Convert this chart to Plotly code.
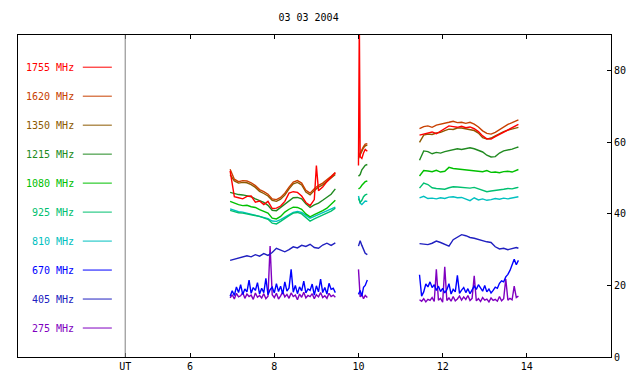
import numpy as np
import plotly.graph_objects as go

# ---------------- data ----------------
labels = ["1755 MHz", "1620 MHz", "1350 MHz", "1215 MHz", "1080 MHz",
          "925 MHz", "810 MHz", "670 MHz", "405 MHz", "275 MHz"]
colors = ["#ff0000", "#c84000", "#8c5a00", "#208a20", "#00c000",
          "#00c070", "#00c0c0", "#0000ff", "#2020c0", "#8000c0"]

# sampling times (UT hours) of the three observing segments
t1 = list(np.round(np.arange(6.95, 9.4501, 0.1), 2))          # 26
t2 = [10.00, 10.04, 10.08, 10.12, 10.16, 10.21]                # 6
t3 = list(np.round(np.arange(11.45, 13.7501, 0.1), 2)) + [13.80]  # 25
# denser sampling for the noisy low-frequency channels
t1n = list(np.round(np.arange(6.95, 9.4501, 0.05), 2))         # 51
t3n = list(np.round(np.arange(11.45, 13.8001, 0.05), 2))       # 48

T = t1 + [None] + t2 + [None] + t3
TN = t1n + [None] + t2 + [None] + t3n

f1755 = [52.0, 44.8, 44.5, 44.2, 44.9, 45.0, 43.3, 43.6, 42.6, 43.5, 41.5, 41.6, 42.2,
         43.5, 45.8, 46.2, 46.0, 45.0, 43.2, 42.3, 44.0, 46.5, 47.5, 49.0, 50.2, 51.5,
         None, 53.5, 56.0, 55.5, 57.0, 58.0, 57.5,
         None, 62.0, 62.3, 62.6, 62.9, 62.4, 63.2, 64.0, 64.6, 64.4, 64.2, 64.5, 64.1,
         64.3, 63.8, 63.0, 61.8, 61.0, 60.9, 61.6, 62.2, 62.8, 63.5, 64.0, 64.6, 65.0]
f1620 = [52.5, 49.7, 49.0, 49.3, 49.2, 48.7, 47.9, 46.8, 46.2, 45.5, 44.2, 44.0, 44.6,
         45.8, 47.5, 48.9, 49.3, 48.6, 46.6, 45.8, 47.0, 48.0, 48.6, 49.5, 50.5, 51.6,
         None, 56.0, 57.0, 58.0, 58.8, 59.5, 59.6,
         None, 63.8, 64.4, 64.6, 64.2, 64.8, 65.0, 65.2, 65.6, 65.9, 65.5, 65.6, 65.3,
         65.6, 65.1, 64.3, 63.2, 62.5, 62.3, 62.8, 63.6, 64.3, 65.0, 65.5, 66.0, 66.3]
f1350 = [51.0, 49.2, 48.6, 48.8, 48.7, 48.2, 47.4, 46.3, 45.7, 45.0, 43.8, 43.5, 44.1,
         45.3, 47.0, 48.4, 48.8, 48.1, 46.1, 45.3, 46.5, 47.5, 48.1, 49.0, 50.0, 51.0,
         None, 55.5, 56.5, 57.5, 58.5, 59.0, 59.2,
         None, 60.0, 62.0, 62.3, 62.2, 62.6, 62.8, 63.3, 63.7, 63.6, 64.0, 64.0, 63.8,
         63.7, 63.3, 62.6, 61.3, 60.9, 61.2, 61.8, 62.5, 63.0, 63.4, 63.8, 64.0, 64.2]
f1215 = [46.0, 45.6, 45.4, 45.3, 45.0, 44.8, 44.2, 43.8, 43.2, 42.4, 41.0, 40.9, 41.8,
         42.9, 43.8, 44.5, 44.6, 44.2, 42.8, 41.8, 42.5, 43.0, 43.8, 44.6, 45.5, 47.0,
         None, 50.5, 51.0, 52.3, 53.0, 53.6, 53.8,
         None, 55.0, 57.6, 57.4, 56.8, 57.2, 57.0, 57.4, 57.7, 57.9, 58.2, 58.0, 58.3,
         58.5, 58.2, 57.8, 57.3, 56.4, 55.9, 56.0, 57.0, 57.6, 57.8, 58.1, 58.5, 58.7]
f1080 = [43.5, 43.0, 42.6, 42.3, 42.4, 42.0, 41.8, 41.2, 40.7, 40.2, 38.8, 38.6, 39.3,
         40.5, 41.3, 41.9, 41.8, 41.3, 40.0, 39.2, 39.8, 40.3, 40.9, 41.6, 42.6, 43.8,
         None, 47.0, 47.3, 48.0, 48.6, 49.0, 49.2,
         None, 50.6, 52.1, 52.0, 51.8, 52.2, 51.7, 51.9, 53.0, 52.7, 52.6, 52.3, 52.4,
         52.1, 52.0, 51.9, 51.8, 52.1, 51.6, 51.7, 51.5, 51.8, 51.9, 51.7, 52.2, 52.4]
f925 = [41.0, 40.6, 40.3, 40.2, 40.0, 39.8, 39.6, 39.3, 38.9, 38.5, 37.4, 37.2, 37.9,
        38.8, 39.5, 40.2, 40.4, 40.0, 38.9, 38.0, 38.6, 39.1, 39.6, 40.2, 40.8, 41.6,
        None, 44.3, 43.2, 43.8, 44.8, 45.3, 45.5,
        None, 47.2, 48.6, 48.2, 47.3, 47.1, 47.0, 46.9, 47.3, 47.6, 47.5, 47.4, 47.1,
        47.2, 47.4, 47.0, 46.5, 46.2, 46.4, 46.5, 46.8, 46.9, 47.1, 47.0, 47.3, 47.4]
f810 = [41.4, 40.9, 40.6, 40.5, 40.2, 40.0, 39.8, 39.4, 39.0, 38.7, 38.0, 37.9, 38.4,
        39.1, 39.7, 40.4, 40.7, 40.4, 39.6, 38.8, 39.3, 39.8, 40.3, 40.8, 41.3, 41.9,
        None, 45.0, 43.0, 42.6, 43.2, 43.6, 43.5,
        None, 44.5, 44.9, 44.3, 44.4, 44.2, 44.5, 44.3, 44.7, 44.8, 44.5, 44.6, 44.2,
        43.7, 44.5, 43.9, 44.2, 43.8, 44.0, 44.3, 44.1, 44.4, 44.2, 44.5, 44.6, 44.8]
f405 = [27.0, 27.3, 27.5, 27.8, 28.3, 28.0, 28.6, 28.2, 28.9, 28.4, 29.2, 30.4, 29.8,
        29.4, 30.0, 30.8, 30.5, 31.2, 30.9, 31.5, 30.6, 30.4, 31.3, 31.8, 31.2, 31.9,
        None, 31.0, 32.5, 31.2, 30.0, 29.0, 28.6,
        None, 31.7, 31.5, 31.4, 31.8, 32.4, 32.0, 31.6, 31.0, 32.8, 33.5, 34.2, 33.9,
        33.4, 33.2, 32.8, 32.4, 32.2, 32.0, 30.8, 30.2, 30.4, 30.0, 30.3, 30.6, 30.4]
f670 = [17.0, 18.5, 17.2, 19.6, 18.0, 20.2, 17.5, 19.0, 18.2, 21.5, 17.8, 19.4, 18.6,
        20.8, 17.6, 19.2, 18.0, 22.0, 17.4, 18.8, 19.5, 17.9, 20.5, 18.3, 19.8, 17.6,
        21.0, 18.4, 19.3, 24.5, 18.1, 20.0, 17.7, 19.6, 18.5, 21.2, 17.9, 19.0, 18.6,
        20.4, 17.3, 19.9, 18.2, 21.8, 18.0, 19.4, 17.6, 20.6, 18.9, 19.2, 18.0,
        None, 17.5, 18.6, 17.0, 19.5, 20.0, 21.5,
        None, 23.0, 17.0, 18.2, 20.4, 19.6, 21.0, 19.4, 20.2, 18.6, 19.8, 18.3, 19.2,
        17.9, 18.8, 20.5, 17.6, 18.9, 18.2, 22.8, 17.8, 18.7, 19.4, 18.0, 19.1, 17.7,
        18.6, 19.8, 18.9, 20.2, 19.3, 18.4, 20.0, 18.2, 19.0, 17.9, 18.6, 19.5, 19.2,
        20.6, 21.3, 21.0, 22.4, 23.1, 24.2, 25.6, 27.3, 25.8, 27.0]
f275 = [16.5, 17.4, 16.2, 17.8, 16.8, 17.1, 18.0, 16.4, 17.6, 16.9, 17.3, 16.1, 17.9,
        16.7, 17.2, 16.5, 17.7, 16.3, 17.0, 31.0, 17.4, 16.6, 17.8, 16.2, 17.1, 18.2,
        16.8, 17.5, 16.4, 17.9, 16.9, 17.3, 16.0, 17.6, 16.7, 18.1, 16.5, 17.2, 16.9,
        17.7, 16.3, 17.4, 16.8, 18.0, 16.6, 17.1, 16.4, 17.8, 16.9, 17.3, 16.7,
        None, 24.5, 16.8, 17.5, 16.3, 17.2, 16.6,
        None, 16.0, 15.6, 16.3, 15.4, 16.1, 15.8, 16.6, 15.5, 24.5, 15.9, 16.4, 15.3,
        25.2, 15.8, 16.5, 15.6, 16.9, 15.7, 16.2, 17.0, 15.9, 16.8, 16.1, 17.2, 15.8,
        16.4, 22.7, 15.7, 16.3, 15.5, 16.6, 15.9, 16.2, 15.4, 16.5, 15.8, 16.1, 15.6,
        16.9, 15.7, 16.3, 21.8, 15.9, 16.4, 16.0, 19.8, 16.6, 17.0]

# narrow spikes (time, value)
spike_1755_t = [9.00, 10.02]
spike_1755_v = [53.5, 95.0]

ut_hour = 4.457
tick_vals = [ut_hour, 6, 8, 10, 12, 14]
tick_text = ["UT", "6", "8", "10", "12", "14"]


def with_spikes(xs, ys, st, sv):
    xs, ys = list(xs), list(ys)
    for t, v in zip(st, sv):
        for i in range(len(xs) - 1):
            a, b = xs[i], xs[i + 1]
            if a is not None and b is not None and a <= t <= b:
                xs[i + 1:i + 1] = [t]
                ys[i + 1:i + 1] = [v]
                break
    return xs, ys


series = {
    "1755 MHz": with_spikes(T, f1755, spike_1755_t, spike_1755_v),
    "1620 MHz": (T, f1620),
    "1350 MHz": (T, f1350),
    "1215 MHz": (T, f1215),
    "1080 MHz": (T, f1080),
    "925 MHz": (T, f925),
    "810 MHz": (T, f810),
    "670 MHz": (TN, f670),
    "405 MHz": (T, f405),
    "275 MHz": (TN, f275),
}
color_of = dict(zip(labels, colors))
draw_order = ["275 MHz", "405 MHz", "670 MHz", "810 MHz", "925 MHz", "1080 MHz",
              "1215 MHz", "1350 MHz", "1620 MHz", "1755 MHz"]

FONT = "DejaVu Sans Mono"
fig = go.Figure()
for name in draw_order:
    xs, ys = series[name]
    fig.add_trace(go.Scatter(x=xs, y=ys, mode="lines", name=name,
                             line=dict(color=color_of[name], width=1.4),
                             connectgaps=False, showlegend=False, hoverinfo="skip"))

# legend drawn inside the plot, left of the UT marker
shapes = [dict(type="line", xref="x", yref="y", x0=ut_hour, x1=ut_hour, y0=0, y1=90,
               line=dict(color="#808080", width=1))]
annotations = []
for i, name in enumerate(labels):
    yl = 81.0 - 8.1 * i
    shapes.append(dict(type="line", xref="x", yref="y", x0=3.45, x1=4.14, y0=yl, y1=yl,
                       line=dict(color=color_of[name], width=1)))
    annotations.append(dict(x=3.29, y=yl, xref="x", yref="y", text=name, showarrow=False,
                            xanchor="right", yanchor="middle",
                            font=dict(family=FONT, size=10, color=color_of[name])))

fig.update_layout(
    width=640, height=384,
    margin=dict(l=18, r=29, t=35, b=25),
    paper_bgcolor="white", plot_bgcolor="white",
    title=dict(text="03 03 2004", x=0.49, xref="paper", y=1 - 17 / 384, yref="container",
               xanchor="center", yanchor="middle",
               font=dict(family=FONT, size=10, color="black")),
    shapes=shapes, annotations=annotations,
    xaxis=dict(range=[1.91, 16.0], tickvals=tick_vals, ticktext=tick_text,
               ticks="inside", ticklen=4, tickcolor="black", showline=True,
               linecolor="black", linewidth=1, mirror="allticks", showgrid=False,
               zeroline=False, tickfont=dict(family=FONT, size=10, color="black")),
    yaxis=dict(range=[0, 90], side="right", tickvals=[0, 20, 40, 60, 80],
               ticks="inside", ticklen=4, tickcolor="black", showline=True,
               linecolor="black", linewidth=1, mirror=True, showgrid=False,
               zeroline=False, tickfont=dict(family=FONT, size=10, color="black")),
)

fig.write_html("out.html",
               config={"displayModeBar": False, "staticPlot": True},
               post_script="document.body.style.margin='0px';"
                           "document.body.style.overflow='hidden';")
